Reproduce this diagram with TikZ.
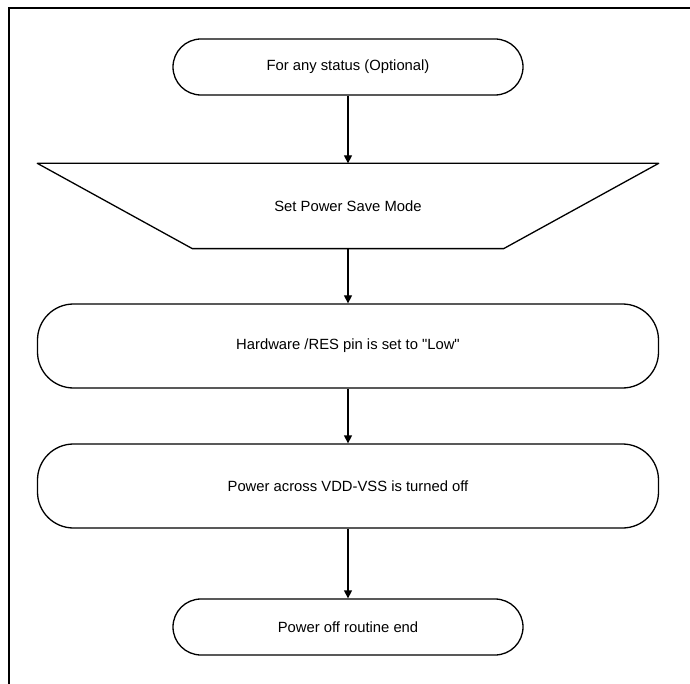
\documentclass[tikz,border=0pt]{standalone}
\usepackage{fontspec}
\setmainfont{Liberation Sans}[Ligatures=TeXOff]
\usetikzlibrary{arrows.meta}

\begin{document}
\begin{tikzpicture}[x=1pt,y=-1pt,->,>={Triangle[length=8pt,width=8pt]},line width=1.3pt]
    \tikzstyle{step box}=[font=\fontsize{14.8}{17}\selectfont,inner sep=0pt]
    \tikzstyle{terminal}=[step box,draw,rectangle,rounded corners=28pt,minimum width=350pt,minimum height=56pt]
    \tikzstyle{process}=[step box,draw,rectangle,rounded corners=36pt,minimum width=621pt,minimum height=84pt]
    \tikzstyle{manual op}=[step box,rectangle,minimum width=620pt,minimum height=84pt]

    \useasboundingbox (0,0) rectangle (690,684);
    % outer frame
    \draw[-,line width=2pt] (9,684) -- (9,8) -- (690,8);

    % Draw the flow steps
    \node[terminal] (start) at (348,67) {For any status (Optional)};
    \node[manual op] (mode) at (348,206) {Set Power Save Mode};
    \node[process] (res) at (348,346) {Hardware /RES pin is set to "Low"};
    \node[process] (vdd) at (348,486) {Power across VDD-VSS is turned off};
    \node[terminal] (end) at (348,627) {Power off routine end};

    % trapezium round the manual step
    \draw[-,line join=round] (mode.north west) -- (mode.north east)
        -- ([xshift=-155pt]mode.south east) -- ([xshift=155pt]mode.south west) -- cycle;

    \path (start) edge (mode);
    \path (mode) edge (res);
    \path (res) edge (vdd);
    \path (vdd) edge (end);
\end{tikzpicture}
\end{document}
